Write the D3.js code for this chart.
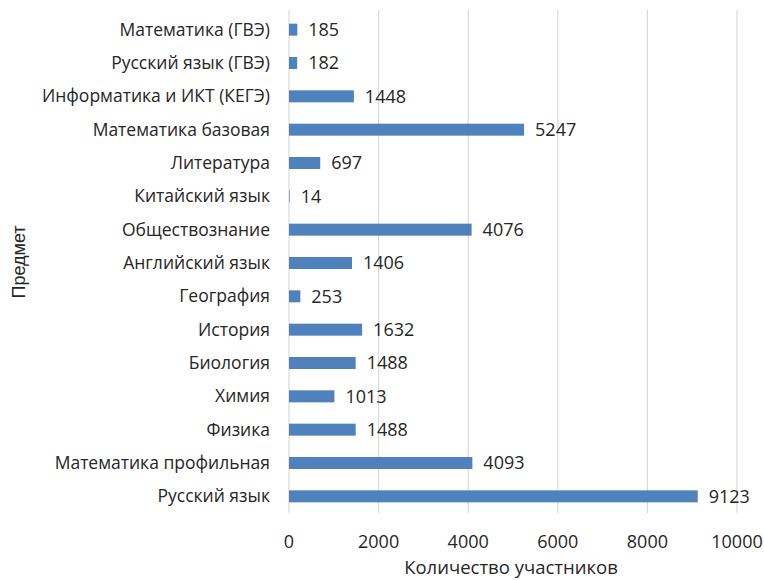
<!DOCTYPE html>
<html>
<head>
<meta charset="utf-8">
<script src="https://cdn.jsdelivr.net/npm/d3@7"></script>
<style>
  body { margin: 0; background: #fff; }
  text { font-family: "Open Sans", "Liberation Sans", sans-serif; fill: #262626; }
</style>
</head>
<body>
<div id="chart"></div>
<script>
// categories from top to bottom as drawn
var subjects = ["Математика (ГВЭ)", "Русский язык (ГВЭ)", "Информатика и ИКТ (КЕГЭ)", "Математика базовая",
                "Литература", "Китайский язык", "Обществознание", "Английский язык", "География",
                "История", "Биология", "Химия", "Физика", "Математика профильная", "Русский язык"];
var counts = [185, 182, 1448, 5247, 697, 14, 4076, 1406, 253, 1632, 1488, 1013, 1488, 4093, 9123];
var xTicks = [0, 2000, 4000, 6000, 8000, 10000];

var width = 764, height = 580;
var margin = {top: 13, right: 27, bottom: 67, left: 289};

var svg = d3.select("#chart").append("svg")
            .attr("width", width)
            .attr("height", height);

var x = d3.scaleLinear().domain([0, 10000]).range([margin.left, width - margin.right]);
var y = d3.scaleBand().domain(subjects).range([margin.top, height - margin.bottom]).paddingInner(0.64).paddingOuter(0.32);

// gridlines
svg.append("g").selectAll("line")
   .data(xTicks)
   .enter().append("line")
   .attr("x1", function(d){ return x(d); })
   .attr("x2", function(d){ return x(d); })
   .attr("y1", margin.top - 3)
   .attr("y2", height - margin.bottom)
   .style("stroke", "#d9d9d9")
   .style("stroke-width", 1.2);

// bars
svg.append("g").selectAll("rect")
   .data(subjects)
   .enter().append("rect")
   .attr("x", x(0))
   .attr("y", function(d){ return y(d); })
   .attr("width", function(d, i){ return x(counts[i]) - x(0); })
   .attr("height", y.bandwidth())
   .style("fill", "#4f81bd");

// value labels
svg.append("g").selectAll("text")
   .data(subjects)
   .enter().append("text")
   .attr("x", function(d, i){ return x(counts[i]) + 11; })
   .attr("y", function(d){ return y(d) + y.bandwidth() / 2; })
   .attr("dy", "0.35em")
   .style("font-size", "18px")
   .text(function(d, i){ return counts[i]; });

// category labels
svg.append("g").selectAll("text")
   .data(subjects)
   .enter().append("text")
   .attr("x", margin.left - 19)
   .attr("y", function(d){ return y(d) + y.bandwidth() / 2; })
   .attr("dy", "0.35em")
   .attr("text-anchor", "end")
   .style("font-size", "17.5px")
   .text(function(d){ return d; });

// x tick labels
svg.append("g").selectAll("text")
   .data(xTicks)
   .enter().append("text")
   .attr("x", function(d){ return x(d); })
   .attr("y", 542)
   .attr("dy", "0.35em")
   .attr("text-anchor", "middle")
   .style("font-size", "18px")
   .text(function(d){ return d; });

// axis titles
svg.append("text")
   .attr("x", 511)
   .attr("y", 568)
   .attr("dy", "0.35em")
   .attr("text-anchor", "middle")
   .style("font-size", "18.5px")
   .text("Количество участников");

svg.append("text")
   .attr("transform", "translate(19,262) rotate(-90)")
   .attr("dy", "0.35em")
   .attr("text-anchor", "middle")
   .style("font-family", "'Liberation Sans', Arial, sans-serif")
   .style("font-size", "18px")
   .text("Предмет");
</script>
</body>
</html>
